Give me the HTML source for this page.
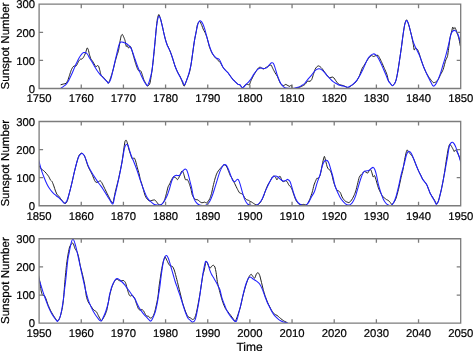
<!DOCTYPE html>
<html><head><meta charset="utf-8"><style>
html,body{margin:0;padding:0;background:#fff;width:473px;height:351px;overflow:hidden}
svg{display:block;will-change:transform}
text{font-family:"Liberation Sans",sans-serif;text-rendering:geometricPrecision}
</style></head><body>
<svg width="473" height="351" viewBox="0 0 473 351">
<rect width="473" height="351" fill="#fff"/>
<clipPath id="c0"><rect x="39.1" y="4.2" width="421.59999999999997" height="84.3"/></clipPath>
<g clip-path="url(#c0)" fill="none" stroke-linejoin="round" stroke-linecap="round"><path d="M61.00,84.70 C61.25,84.63 62.99,84.14 63.50,84.00 C64.01,83.86 65.67,83.66 66.10,83.30 C66.53,82.94 67.46,81.20 67.80,80.40 C68.14,79.60 69.16,76.32 69.50,75.30 C69.84,74.28 70.85,71.05 71.20,70.20 C71.55,69.35 72.65,67.23 73.00,66.80 C73.35,66.37 74.41,65.96 74.70,65.90 C74.99,65.84 75.65,66.37 75.90,66.20 C76.15,66.03 76.90,64.74 77.20,64.20 C77.50,63.66 78.56,61.31 78.90,60.80 C79.24,60.29 80.29,59.27 80.60,59.10 C80.91,58.93 81.74,59.24 82.00,59.10 C82.26,58.96 82.96,58.05 83.20,57.70 C83.44,57.35 84.14,56.15 84.40,55.60 C84.66,55.05 85.53,52.97 85.80,52.20 C86.07,51.43 86.85,48.15 87.10,47.90 C87.35,47.65 88.06,49.01 88.30,49.70 C88.54,50.39 89.24,53.86 89.50,54.80 C89.76,55.74 90.62,58.50 90.90,59.10 C91.18,59.70 92.04,60.43 92.30,60.80 C92.56,61.17 93.26,62.38 93.50,62.80 C93.74,63.22 94.45,64.60 94.70,65.00 C94.95,65.40 95.73,66.74 96.00,66.80 C96.27,66.86 97.14,65.66 97.40,65.60 C97.66,65.54 98.36,65.74 98.60,66.20 C98.84,66.66 99.58,69.38 99.80,70.20 C100.02,71.02 100.58,73.80 100.80,74.40 C101.02,75.00 101.71,75.89 102.00,76.20 C102.29,76.51 103.36,77.16 103.70,77.50 C104.04,77.84 105.06,79.19 105.40,79.60 C105.74,80.01 106.81,81.23 107.10,81.60 C107.39,81.97 108.04,83.42 108.30,83.30 C108.56,83.18 109.36,81.27 109.70,80.40 C110.04,79.53 111.33,75.78 111.70,74.60 C112.07,73.42 113.06,69.88 113.40,68.60 C113.74,67.32 114.76,63.08 115.10,61.80 C115.44,60.52 116.46,56.92 116.80,55.80 C117.14,54.68 118.19,51.97 118.50,50.60 C118.81,49.23 119.64,43.55 119.90,42.10 C120.16,40.65 120.86,36.87 121.10,36.10 C121.34,35.33 122.04,34.31 122.30,34.40 C122.56,34.49 123.43,36.40 123.70,37.00 C123.97,37.60 124.75,39.46 125.00,40.40 C125.25,41.34 125.99,45.89 126.20,46.40 C126.41,46.91 126.93,45.42 127.10,45.50 C127.27,45.58 127.73,46.94 127.90,47.20 C128.07,47.46 128.62,48.23 128.80,48.10 C128.98,47.97 129.49,45.99 129.70,45.90 C129.91,45.81 130.65,46.64 130.90,47.20 C131.15,47.76 131.90,50.47 132.20,51.50 C132.50,52.53 133.56,56.30 133.90,57.50 C134.24,58.70 135.25,62.39 135.60,63.50 C135.95,64.61 137.09,67.87 137.40,68.60 C137.71,69.33 138.45,70.63 138.70,70.80 C138.95,70.97 139.66,70.23 139.90,70.30 C140.14,70.37 140.84,70.99 141.10,71.50 C141.36,72.01 142.23,74.58 142.50,75.40 C142.77,76.22 143.49,78.93 143.80,79.70 C144.11,80.47 145.30,82.52 145.60,83.10 C145.90,83.68 146.56,85.21 146.80,85.50 C147.04,85.79 147.68,86.25 148.00,86.00 C148.32,85.75 149.61,84.48 150.00,83.00 C150.39,81.52 151.57,73.50 151.90,71.20 C152.23,68.90 152.99,62.85 153.30,60.00 C153.61,57.15 154.71,45.79 155.00,42.70 C155.29,39.61 155.96,31.49 156.20,29.10 C156.44,26.71 157.14,20.26 157.40,18.80 C157.66,17.34 158.49,14.50 158.80,14.50 C159.11,14.50 160.16,17.69 160.50,18.80 C160.84,19.91 161.86,24.15 162.20,25.60 C162.54,27.05 163.56,31.84 163.90,33.30 C164.24,34.76 165.25,39.00 165.60,40.20 C165.95,41.40 167.05,44.45 167.40,45.30 C167.75,46.15 168.76,47.93 169.10,48.70 C169.44,49.47 170.46,52.06 170.80,53.00 C171.14,53.94 172.08,56.80 172.50,58.10 C172.92,59.40 174.50,64.61 175.00,66.00 C175.50,67.39 177.00,70.98 177.50,72.00 C178.00,73.02 179.58,75.36 180.00,76.20 C180.42,77.04 181.40,79.62 181.70,80.40 C182.00,81.18 182.74,83.43 183.00,84.00 C183.26,84.57 183.92,86.54 184.30,86.10 C184.68,85.66 186.29,80.94 186.80,79.60 C187.31,78.26 188.97,74.24 189.40,72.70 C189.83,71.16 190.76,66.25 191.10,64.20 C191.44,62.15 192.46,54.59 192.80,52.20 C193.14,49.81 194.16,42.35 194.50,40.30 C194.84,38.25 195.93,33.17 196.20,31.70 C196.47,30.23 196.97,26.55 197.20,25.60 C197.43,24.65 198.24,22.62 198.50,22.20 C198.76,21.78 199.46,21.06 199.80,21.40 C200.14,21.74 201.56,24.83 201.90,25.60 C202.24,26.37 202.89,28.41 203.20,29.10 C203.51,29.79 204.62,31.65 205.00,32.50 C205.38,33.35 206.58,36.23 207.00,37.60 C207.42,38.97 208.82,44.91 209.20,46.20 C209.58,47.49 210.47,49.73 210.80,50.50 C211.13,51.27 212.08,53.21 212.50,53.90 C212.92,54.59 214.49,56.80 215.00,57.40 C215.51,58.00 217.08,59.39 217.60,59.90 C218.12,60.41 219.69,61.81 220.20,62.50 C220.71,63.19 222.19,66.03 222.70,66.80 C223.21,67.57 224.78,69.61 225.30,70.20 C225.82,70.79 227.39,72.10 227.90,72.70 C228.41,73.30 229.89,75.51 230.40,76.20 C230.91,76.89 232.48,79.01 233.00,79.60 C233.52,80.19 235.09,81.62 235.60,82.10 C236.11,82.58 237.66,84.11 238.10,84.40 C238.54,84.69 239.55,84.66 240.00,85.00 C240.45,85.34 242.09,87.80 242.60,87.80 C243.11,87.80 244.59,85.34 245.10,85.00 C245.61,84.66 247.27,84.43 247.70,84.40 C248.13,84.37 249.06,85.10 249.40,84.70 C249.74,84.30 250.67,81.34 251.10,80.40 C251.53,79.46 253.19,76.24 253.70,75.30 C254.21,74.36 255.69,71.77 256.20,71.00 C256.71,70.23 258.37,67.97 258.80,67.60 C259.23,67.23 260.16,67.21 260.50,67.30 C260.84,67.39 261.86,68.33 262.20,68.50 C262.54,68.67 263.56,69.09 263.90,69.00 C264.24,68.91 265.25,67.82 265.60,67.60 C265.95,67.38 267.02,67.00 267.40,66.80 C267.78,66.60 269.03,65.78 269.40,65.60 C269.77,65.42 270.76,64.71 271.10,65.00 C271.44,65.29 272.41,67.73 272.80,68.50 C273.19,69.27 274.55,71.93 275.00,72.70 C275.45,73.47 276.90,75.43 277.30,76.20 C277.70,76.97 278.63,79.58 279.00,80.40 C279.37,81.22 280.54,83.88 281.00,84.40 C281.46,84.92 283.12,85.60 283.60,85.60 C284.08,85.60 285.37,84.40 285.80,84.40 C286.23,84.40 287.49,85.40 287.90,85.60 C288.31,85.80 289.56,86.46 289.90,86.40 C290.24,86.34 291.08,84.83 291.30,85.00 C291.52,85.17 291.76,87.75 292.10,88.10 C292.44,88.45 294.10,88.53 294.70,88.50 C295.30,88.47 297.42,88.01 298.10,87.80 C298.78,87.59 300.81,86.74 301.50,86.40 C302.19,86.06 304.40,84.91 305.00,84.40 C305.60,83.89 307.00,81.61 307.50,81.30 C308.00,80.99 309.58,81.47 310.00,81.30 C310.42,81.13 311.36,80.29 311.70,79.60 C312.04,78.91 313.06,75.43 313.40,74.40 C313.74,73.37 314.76,70.06 315.10,69.30 C315.44,68.54 316.46,67.14 316.80,66.80 C317.14,66.46 318.15,65.90 318.50,65.90 C318.85,65.90 319.95,66.54 320.30,66.80 C320.65,67.06 321.58,67.99 322.00,68.50 C322.42,69.01 323.99,71.22 324.50,71.90 C325.01,72.58 326.58,74.70 327.10,75.30 C327.62,75.90 329.19,77.73 329.70,77.90 C330.21,78.07 331.78,77.00 332.20,77.00 C332.62,77.00 333.56,77.56 333.90,77.90 C334.24,78.24 335.17,79.81 335.60,80.40 C336.03,80.99 337.68,83.34 338.20,83.80 C338.72,84.26 340.29,84.82 340.80,85.00 C341.31,85.18 342.79,85.42 343.30,85.60 C343.81,85.78 345.44,86.55 345.90,86.80 C346.36,87.05 347.47,88.14 347.90,88.10 C348.33,88.06 349.72,86.74 350.20,86.40 C350.68,86.06 352.24,85.04 352.70,84.70 C353.16,84.36 354.37,83.43 354.80,83.00 C355.23,82.57 356.52,81.17 357.00,80.40 C357.48,79.63 359.09,76.49 359.60,75.30 C360.11,74.11 361.62,69.53 362.10,68.50 C362.58,67.47 363.97,65.69 364.40,65.00 C364.83,64.31 365.94,62.33 366.40,61.60 C366.86,60.87 368.49,58.30 369.00,57.70 C369.51,57.10 371.04,55.72 371.50,55.60 C371.96,55.48 373.17,56.50 373.60,56.50 C374.03,56.50 375.36,55.72 375.80,55.60 C376.24,55.48 377.61,55.04 378.00,55.30 C378.39,55.56 379.32,57.48 379.70,58.20 C380.08,58.92 381.33,61.47 381.80,62.50 C382.27,63.53 383.89,67.31 384.40,68.50 C384.91,69.69 386.49,73.16 386.90,74.40 C387.31,75.64 388.16,80.01 388.50,80.90 C388.84,81.79 389.92,82.83 390.30,83.30 C390.68,83.77 391.88,85.55 392.30,85.60 C392.72,85.65 394.11,84.40 394.50,83.80 C394.89,83.20 395.86,80.88 396.20,79.60 C396.54,78.32 397.55,73.05 397.90,71.00 C398.25,68.95 399.35,61.45 399.70,59.10 C400.05,56.75 401.06,49.96 401.40,47.50 C401.74,45.04 402.76,36.86 403.10,34.50 C403.44,32.14 404.46,25.37 404.80,23.90 C405.14,22.43 406.16,19.88 406.50,19.80 C406.84,19.72 407.86,22.17 408.20,23.10 C408.54,24.03 409.56,27.82 409.90,29.10 C410.24,30.38 411.26,34.37 411.60,35.90 C411.94,37.43 413.04,42.99 413.30,44.40 C413.56,45.81 413.97,49.62 414.20,50.00 C414.43,50.38 415.26,48.24 415.60,48.20 C415.94,48.16 417.23,49.04 417.60,49.60 C417.97,50.16 418.96,52.81 419.30,53.80 C419.64,54.79 420.57,58.20 421.00,59.50 C421.43,60.80 423.08,65.48 423.60,66.80 C424.12,68.12 425.69,71.68 426.20,72.70 C426.71,73.72 428.19,76.23 428.70,77.00 C429.21,77.77 430.84,79.84 431.30,80.40 C431.76,80.96 432.87,82.43 433.30,82.60 C433.73,82.77 435.12,82.40 435.60,82.10 C436.08,81.80 437.59,80.37 438.10,79.60 C438.61,78.83 440.19,75.43 440.70,74.40 C441.21,73.37 442.69,70.75 443.20,69.30 C443.71,67.85 445.37,61.19 445.80,59.90 C446.23,58.61 447.16,57.99 447.50,56.40 C447.84,54.81 448.91,46.04 449.20,44.00 C449.49,41.96 450.14,37.30 450.40,36.00 C450.66,34.70 451.57,31.90 451.80,31.00 C452.03,30.10 452.51,27.18 452.70,27.00 C452.89,26.82 453.48,29.15 453.70,29.20 C453.92,29.25 454.69,27.50 454.90,27.50 C455.11,27.50 455.59,28.65 455.80,29.20 C456.01,29.75 456.78,32.37 457.00,33.00 C457.22,33.63 457.78,34.80 458.00,35.50 C458.22,36.20 458.97,38.97 459.20,40.00 C459.43,41.03 460.19,45.22 460.30,45.80" stroke="#202020" stroke-width="1.0"/><path d="M61.00,88.10 C61.42,87.82 62.65,87.02 63.50,86.40 C64.35,85.78 65.23,85.40 66.10,84.40 C66.97,83.40 67.85,81.92 68.70,80.40 C69.55,78.88 70.35,77.15 71.20,75.30 C72.05,73.45 72.93,71.30 73.80,69.30 C74.67,67.30 75.55,65.15 76.40,63.30 C77.25,61.45 78.05,59.70 78.90,58.20 C79.75,56.70 80.70,55.23 81.50,54.30 C82.30,53.37 83.05,52.88 83.70,52.60 C84.35,52.32 84.77,52.32 85.40,52.60 C86.03,52.88 86.87,53.50 87.50,54.30 C88.13,55.10 88.48,56.18 89.20,57.40 C89.92,58.62 90.95,60.18 91.80,61.60 C92.65,63.02 93.45,64.47 94.30,65.90 C95.15,67.33 96.05,68.92 96.90,70.20 C97.75,71.48 98.55,72.55 99.40,73.60 C100.25,74.65 101.13,75.57 102.00,76.50 C102.87,77.43 103.75,78.35 104.60,79.20 C105.45,80.05 106.45,80.97 107.10,81.60 C107.75,82.23 107.92,83.33 108.50,83.00 C109.08,82.67 109.92,81.43 110.60,79.60 C111.28,77.77 111.85,75.12 112.60,72.00 C113.35,68.88 114.25,64.60 115.10,60.90 C115.95,57.20 116.98,52.65 117.70,49.80 C118.42,46.95 118.83,45.08 119.40,43.80 C119.97,42.52 120.38,42.33 121.10,42.10 C121.82,41.87 122.85,42.17 123.70,42.40 C124.55,42.63 125.35,42.98 126.20,43.50 C127.05,44.02 127.93,44.60 128.80,45.50 C129.67,46.40 130.55,47.18 131.40,48.90 C132.25,50.62 133.05,53.37 133.90,55.80 C134.75,58.23 135.63,61.08 136.50,63.50 C137.37,65.92 138.25,68.17 139.10,70.30 C139.95,72.43 140.75,74.45 141.60,76.30 C142.45,78.15 143.43,80.03 144.20,81.40 C144.97,82.77 145.65,83.82 146.20,84.50 C146.75,85.18 146.98,86.02 147.50,85.50 C148.02,84.98 148.57,83.78 149.30,81.40 C150.03,79.02 151.18,75.47 151.90,71.20 C152.62,66.93 153.03,61.22 153.60,55.80 C154.17,50.38 154.82,43.50 155.30,38.70 C155.78,33.90 156.08,30.28 156.50,27.00 C156.92,23.72 157.37,20.80 157.80,19.00 C158.23,17.20 158.65,16.23 159.10,16.20 C159.55,16.17 159.98,17.23 160.50,18.80 C161.02,20.37 161.63,23.18 162.20,25.60 C162.77,28.02 163.33,30.87 163.90,33.30 C164.47,35.73 165.03,38.17 165.60,40.20 C166.17,42.23 166.60,43.77 167.30,45.50 C168.00,47.23 168.95,48.60 169.80,50.60 C170.65,52.60 171.53,54.93 172.40,57.50 C173.27,60.07 174.15,63.58 175.00,66.00 C175.85,68.42 176.65,70.15 177.50,72.00 C178.35,73.85 179.25,75.53 180.10,77.10 C180.95,78.67 181.88,80.08 182.60,81.40 C183.32,82.72 183.68,85.28 184.40,85.00 C185.12,84.72 186.05,82.00 186.90,79.70 C187.75,77.40 188.80,73.78 189.50,71.20 C190.20,68.62 190.55,67.37 191.10,64.20 C191.65,61.03 192.23,56.18 192.80,52.20 C193.37,48.22 193.93,43.72 194.50,40.30 C195.07,36.88 195.70,34.17 196.20,31.70 C196.70,29.23 197.07,27.12 197.50,25.50 C197.93,23.88 198.27,22.77 198.80,22.00 C199.33,21.23 200.02,20.58 200.70,20.90 C201.38,21.22 202.18,22.40 202.90,23.90 C203.62,25.40 204.23,27.33 205.00,29.90 C205.77,32.47 206.65,36.30 207.50,39.30 C208.35,42.30 209.25,45.48 210.10,47.90 C210.95,50.32 211.60,52.15 212.60,53.80 C213.60,55.45 214.95,56.80 216.10,57.80 C217.25,58.80 218.40,58.30 219.50,59.80 C220.60,61.30 221.73,65.07 222.70,66.80 C223.67,68.53 224.43,69.22 225.30,70.20 C226.17,71.18 227.05,71.70 227.90,72.70 C228.75,73.70 229.55,75.05 230.40,76.20 C231.25,77.35 232.13,78.62 233.00,79.60 C233.87,80.58 234.75,81.30 235.60,82.10 C236.45,82.90 237.37,83.97 238.10,84.40 C238.83,84.83 239.40,84.22 240.00,84.70 C240.60,85.18 241.13,86.87 241.70,87.30 C242.27,87.73 242.68,87.78 243.40,87.30 C244.12,86.82 245.15,85.27 246.00,84.40 C246.85,83.53 247.65,83.05 248.50,82.10 C249.35,81.15 250.23,79.98 251.10,78.70 C251.97,77.42 252.85,75.68 253.70,74.40 C254.55,73.12 255.35,71.98 256.20,71.00 C257.05,70.02 257.93,69.02 258.80,68.50 C259.67,67.98 260.55,67.90 261.40,67.90 C262.25,67.90 263.05,68.50 263.90,68.50 C264.75,68.50 265.63,68.48 266.50,67.90 C267.37,67.32 268.25,65.85 269.10,65.00 C269.95,64.15 270.90,63.08 271.60,62.80 C272.30,62.52 272.73,62.50 273.30,63.30 C273.87,64.10 274.42,65.88 275.00,67.60 C275.58,69.32 276.13,71.60 276.80,73.60 C277.47,75.60 278.30,77.90 279.00,79.60 C279.70,81.30 280.23,82.60 281.00,83.80 C281.77,85.00 282.73,86.08 283.60,86.80 C284.47,87.52 284.92,87.82 286.20,88.10 C287.48,88.38 289.88,88.50 291.30,88.50 C292.72,88.50 293.57,88.30 294.70,88.10 C295.83,87.90 296.97,87.72 298.10,87.30 C299.23,86.88 300.35,86.32 301.50,85.60 C302.65,84.88 303.85,84.15 305.00,83.00 C306.15,81.85 307.27,80.07 308.40,78.70 C309.53,77.33 310.68,76.13 311.80,74.80 C312.92,73.47 314.12,71.67 315.10,70.70 C316.08,69.73 316.83,69.28 317.70,69.00 C318.57,68.72 319.45,68.72 320.30,69.00 C321.15,69.28 321.95,69.93 322.80,70.70 C323.65,71.47 324.55,72.63 325.40,73.60 C326.25,74.57 327.05,75.57 327.90,76.50 C328.75,77.43 329.63,78.35 330.50,79.20 C331.37,80.05 332.25,80.92 333.10,81.60 C333.95,82.28 334.75,82.78 335.60,83.30 C336.45,83.82 337.33,84.32 338.20,84.70 C339.07,85.08 339.95,85.37 340.80,85.60 C341.65,85.83 342.45,85.90 343.30,86.10 C344.15,86.30 345.18,86.60 345.90,86.80 C346.62,87.00 346.88,87.42 347.60,87.30 C348.32,87.18 349.35,86.58 350.20,86.10 C351.05,85.62 351.85,85.07 352.70,84.40 C353.55,83.73 354.43,83.05 355.30,82.10 C356.17,81.15 357.05,79.98 357.90,78.70 C358.75,77.42 359.55,75.97 360.40,74.40 C361.25,72.83 362.13,71.15 363.00,69.30 C363.87,67.45 364.75,65.15 365.60,63.30 C366.45,61.45 367.25,59.53 368.10,58.20 C368.95,56.87 369.85,56.02 370.70,55.30 C371.55,54.58 372.35,53.98 373.20,53.90 C374.05,53.82 374.93,54.08 375.80,54.80 C376.67,55.52 377.55,56.78 378.40,58.20 C379.25,59.62 380.05,61.45 380.90,63.30 C381.75,65.15 382.63,67.30 383.50,69.30 C384.37,71.30 385.25,73.30 386.10,75.30 C386.95,77.30 387.90,79.97 388.60,81.30 C389.30,82.63 389.68,82.58 390.30,83.30 C390.92,84.02 391.60,85.52 392.30,85.60 C393.00,85.68 393.85,84.80 394.50,83.80 C395.15,82.80 395.63,81.73 396.20,79.60 C396.77,77.47 397.32,74.42 397.90,71.00 C398.48,67.58 399.12,63.02 399.70,59.10 C400.28,55.18 400.83,51.60 401.40,47.50 C401.97,43.40 402.53,38.33 403.10,34.50 C403.67,30.67 404.23,26.83 404.80,24.50 C405.37,22.17 405.93,20.73 406.50,20.50 C407.07,20.27 407.63,21.67 408.20,23.10 C408.77,24.53 409.33,26.97 409.90,29.10 C410.47,31.23 411.03,33.77 411.60,35.90 C412.17,38.03 412.73,40.18 413.30,41.90 C413.87,43.62 414.42,44.88 415.00,46.20 C415.58,47.52 416.08,48.33 416.80,49.80 C417.52,51.27 418.60,53.38 419.30,55.00 C420.00,56.62 420.28,57.53 421.00,59.50 C421.72,61.47 422.73,64.60 423.60,66.80 C424.47,69.00 425.35,70.85 426.20,72.70 C427.05,74.55 427.85,76.18 428.70,77.90 C429.55,79.62 430.53,81.63 431.30,83.00 C432.07,84.37 432.58,85.87 433.30,86.10 C434.02,86.33 434.80,85.48 435.60,84.40 C436.40,83.32 437.25,81.55 438.10,79.60 C438.95,77.65 439.85,75.27 440.70,72.70 C441.55,70.13 442.35,67.05 443.20,64.20 C444.05,61.35 444.93,58.73 445.80,55.60 C446.67,52.47 447.68,48.38 448.40,45.40 C449.12,42.42 449.58,39.77 450.10,37.70 C450.62,35.63 451.05,34.12 451.50,33.00 C451.95,31.88 452.28,31.43 452.80,31.00 C453.32,30.57 454.07,30.37 454.60,30.40 C455.13,30.43 455.52,30.73 456.00,31.20 C456.48,31.67 456.97,32.10 457.50,33.20 C458.03,34.30 458.73,36.37 459.20,37.80 C459.67,39.23 460.12,41.13 460.30,41.80" stroke="#2020ff" stroke-width="1.05"/></g>
<path d="M39.1,4.2 H460.7 V88.5 H39.1 Z M81.26,88.5 v-4 M81.26,4.2 v4 M123.42,88.5 v-4 M123.42,4.2 v4 M165.58,88.5 v-4 M165.58,4.2 v4 M207.74,88.5 v-4 M207.74,4.2 v4 M249.90,88.5 v-4 M249.90,4.2 v4 M292.06,88.5 v-4 M292.06,4.2 v4 M334.22,88.5 v-4 M334.22,4.2 v4 M376.38,88.5 v-4 M376.38,4.2 v4 M418.54,88.5 v-4 M418.54,4.2 v4 M39.1,60.40 h4 M460.7,60.40 h-4 M39.1,32.30 h4 M460.7,32.30 h-4 " fill="none" stroke="#7c7c7c" stroke-width="1.3"/>
<text x="35.00" y="92.70" text-anchor="end" font-family="Liberation Sans, sans-serif" font-size="11.3" stroke="#000" stroke-width="0.2">0</text>
<text x="35.00" y="64.60" text-anchor="end" font-family="Liberation Sans, sans-serif" font-size="11.3" stroke="#000" stroke-width="0.2">100</text>
<text x="35.00" y="36.50" text-anchor="end" font-family="Liberation Sans, sans-serif" font-size="11.3" stroke="#000" stroke-width="0.2">200</text>
<text x="35.00" y="8.40" text-anchor="end" font-family="Liberation Sans, sans-serif" font-size="11.3" stroke="#000" stroke-width="0.2">300</text>
<text x="39.1" y="102.45" text-anchor="middle" font-family="Liberation Sans, sans-serif" font-size="11.3" stroke="#000" stroke-width="0.2">1750</text>
<text x="81.3" y="102.45" text-anchor="middle" font-family="Liberation Sans, sans-serif" font-size="11.3" stroke="#000" stroke-width="0.2">1760</text>
<text x="123.4" y="102.45" text-anchor="middle" font-family="Liberation Sans, sans-serif" font-size="11.3" stroke="#000" stroke-width="0.2">1770</text>
<text x="165.6" y="102.45" text-anchor="middle" font-family="Liberation Sans, sans-serif" font-size="11.3" stroke="#000" stroke-width="0.2">1780</text>
<text x="207.7" y="102.45" text-anchor="middle" font-family="Liberation Sans, sans-serif" font-size="11.3" stroke="#000" stroke-width="0.2">1790</text>
<text x="249.9" y="102.45" text-anchor="middle" font-family="Liberation Sans, sans-serif" font-size="11.3" stroke="#000" stroke-width="0.2">1800</text>
<text x="292.1" y="102.45" text-anchor="middle" font-family="Liberation Sans, sans-serif" font-size="11.3" stroke="#000" stroke-width="0.2">1810</text>
<text x="334.2" y="102.45" text-anchor="middle" font-family="Liberation Sans, sans-serif" font-size="11.3" stroke="#000" stroke-width="0.2">1820</text>
<text x="376.4" y="102.45" text-anchor="middle" font-family="Liberation Sans, sans-serif" font-size="11.3" stroke="#000" stroke-width="0.2">1830</text>
<text x="418.5" y="102.45" text-anchor="middle" font-family="Liberation Sans, sans-serif" font-size="11.3" stroke="#000" stroke-width="0.2">1840</text>
<text x="460.7" y="102.45" text-anchor="middle" font-family="Liberation Sans, sans-serif" font-size="11.3" stroke="#000" stroke-width="0.2">1850</text>
<text transform="translate(8.7,46.0) rotate(-90)" text-anchor="middle" letter-spacing="0.04" font-family="Liberation Sans, sans-serif" font-size="11.5" stroke="#000" stroke-width="0.2">Sunspot Number</text>
<clipPath id="c1"><rect x="39.1" y="121.5" width="421.59999999999997" height="84.25"/></clipPath>
<g clip-path="url(#c1)" fill="none" stroke-linejoin="round" stroke-linecap="round"><path d="M38.00,164.50 C38.08,164.59 38.50,164.97 38.80,165.40 C39.10,165.83 40.53,168.29 41.00,168.80 C41.47,169.31 42.99,170.07 43.50,170.50 C44.01,170.93 45.58,172.50 46.10,173.10 C46.62,173.70 48.27,175.82 48.70,176.50 C49.13,177.18 50.06,179.39 50.40,179.90 C50.74,180.41 51.76,181.00 52.10,181.60 C52.44,182.20 53.46,184.96 53.80,185.90 C54.14,186.84 55.16,190.11 55.50,191.00 C55.84,191.89 56.86,194.28 57.20,194.80 C57.54,195.32 58.56,195.81 58.90,196.20 C59.24,196.59 60.25,198.23 60.60,198.70 C60.95,199.17 62.05,200.47 62.40,200.90 C62.75,201.33 63.76,202.76 64.10,203.00 C64.44,203.24 65.46,203.56 65.80,203.30 C66.14,203.04 67.16,201.37 67.50,200.40 C67.84,199.43 68.77,195.31 69.20,193.60 C69.63,191.89 71.29,185.44 71.80,183.30 C72.31,181.16 73.79,174.33 74.30,172.20 C74.81,170.07 76.48,163.57 76.90,162.00 C77.32,160.43 78.21,157.27 78.50,156.50 C78.79,155.73 79.45,154.64 79.80,154.30 C80.15,153.96 81.52,152.93 82.00,153.10 C82.48,153.27 84.09,154.94 84.60,156.00 C85.11,157.06 86.68,162.50 87.10,163.70 C87.52,164.90 88.45,167.23 88.80,168.00 C89.15,168.77 90.25,170.72 90.60,171.40 C90.95,172.08 91.96,174.03 92.30,174.80 C92.64,175.57 93.71,178.42 94.00,179.10 C94.29,179.78 94.91,181.26 95.20,181.60 C95.49,181.94 96.56,182.50 96.90,182.50 C97.24,182.50 98.26,181.77 98.60,181.60 C98.94,181.43 99.99,180.71 100.30,180.80 C100.61,180.89 101.39,181.99 101.70,182.50 C102.01,183.01 102.98,185.05 103.40,185.90 C103.82,186.75 105.39,189.97 105.90,191.00 C106.41,192.03 108.07,195.34 108.50,196.20 C108.93,197.06 109.89,199.01 110.20,199.60 C110.51,200.19 111.34,201.76 111.60,202.10 C111.86,202.44 112.60,203.16 112.80,203.00 C113.00,202.84 113.37,201.53 113.60,200.50 C113.83,199.47 114.78,194.16 115.10,192.70 C115.42,191.24 116.46,187.26 116.80,185.90 C117.14,184.54 118.15,180.64 118.50,179.10 C118.85,177.56 119.95,172.21 120.30,170.50 C120.65,168.79 121.66,164.05 122.00,162.00 C122.34,159.95 123.40,152.06 123.70,150.00 C124.00,147.94 124.75,142.38 125.00,141.40 C125.25,140.42 125.96,140.03 126.20,140.20 C126.44,140.37 127.14,142.21 127.40,143.10 C127.66,143.99 128.49,147.99 128.80,149.10 C129.11,150.21 130.19,153.26 130.50,154.20 C130.81,155.14 131.64,158.07 131.90,158.50 C132.16,158.93 132.86,158.55 133.10,158.50 C133.34,158.45 134.05,157.75 134.30,158.00 C134.55,158.25 135.29,160.01 135.60,161.00 C135.91,161.99 137.05,166.62 137.40,167.90 C137.75,169.18 138.81,172.64 139.10,173.80 C139.39,174.96 140.05,178.55 140.30,179.50 C140.55,180.45 141.30,182.32 141.60,183.30 C141.90,184.28 142.96,188.10 143.30,189.30 C143.64,190.50 144.65,194.36 145.00,195.30 C145.35,196.24 146.37,198.14 146.80,198.70 C147.23,199.26 148.79,200.73 149.30,200.90 C149.81,201.07 151.39,200.50 151.90,200.40 C152.41,200.30 153.97,199.81 154.40,199.90 C154.83,199.99 155.85,200.91 156.20,201.30 C156.55,201.69 157.56,203.43 157.90,203.80 C158.24,204.17 159.26,204.91 159.60,205.00 C159.94,205.09 160.96,204.90 161.30,204.70 C161.64,204.50 162.66,203.51 163.00,203.00 C163.34,202.49 164.36,200.54 164.70,199.60 C165.04,198.66 166.06,194.88 166.40,193.60 C166.74,192.32 167.77,187.77 168.10,186.80 C168.43,185.83 169.41,184.49 169.70,183.90 C169.99,183.31 170.74,181.45 171.00,180.90 C171.26,180.35 172.05,178.82 172.30,178.40 C172.55,177.98 173.25,176.79 173.50,176.70 C173.75,176.61 174.54,177.38 174.80,177.50 C175.06,177.62 175.84,177.68 176.10,177.90 C176.36,178.12 177.14,179.70 177.40,179.70 C177.66,179.70 178.44,178.33 178.70,177.90 C178.96,177.47 179.75,175.99 180.00,175.40 C180.25,174.81 180.99,172.45 181.20,172.00 C181.41,171.55 181.91,170.90 182.10,170.90 C182.29,170.90 182.91,171.59 183.10,172.00 C183.29,172.41 183.80,174.32 184.00,175.00 C184.20,175.68 184.91,178.29 185.10,178.80 C185.29,179.31 185.70,180.06 185.90,180.10 C186.10,180.14 186.90,179.16 187.10,179.20 C187.30,179.24 187.72,180.16 187.90,180.50 C188.08,180.84 188.67,182.00 188.90,182.60 C189.13,183.20 189.98,185.81 190.20,186.50 C190.42,187.19 190.90,188.67 191.10,189.50 C191.30,190.33 191.87,193.88 192.20,194.80 C192.53,195.72 194.01,198.22 194.40,198.70 C194.79,199.18 195.76,199.48 196.10,199.60 C196.44,199.72 197.46,199.73 197.80,199.90 C198.14,200.07 199.16,201.03 199.50,201.30 C199.84,201.57 200.85,202.47 201.20,202.60 C201.55,202.73 202.65,202.65 203.00,202.60 C203.35,202.55 204.36,202.06 204.70,202.10 C205.04,202.14 206.06,203.08 206.40,203.00 C206.74,202.92 207.76,201.73 208.10,201.30 C208.44,200.87 209.46,199.47 209.80,198.70 C210.14,197.93 211.16,194.88 211.50,193.60 C211.84,192.32 212.86,187.35 213.20,185.90 C213.54,184.45 214.56,180.30 214.90,179.10 C215.24,177.90 216.26,174.72 216.60,173.90 C216.94,173.08 217.96,171.41 218.30,170.90 C218.64,170.39 219.65,169.21 220.00,168.80 C220.35,168.39 221.45,167.18 221.80,166.80 C222.15,166.42 223.16,165.18 223.50,165.00 C223.84,164.82 224.86,164.79 225.20,165.00 C225.54,165.21 226.56,166.46 226.90,167.10 C227.24,167.74 228.26,170.55 228.60,171.40 C228.94,172.25 229.96,174.92 230.30,175.60 C230.64,176.28 231.66,177.60 232.00,178.20 C232.34,178.80 233.36,180.92 233.70,181.60 C234.04,182.28 235.06,184.31 235.40,185.00 C235.74,185.69 236.70,187.73 237.10,188.50 C237.50,189.27 238.97,192.19 239.40,192.70 C239.83,193.21 241.03,193.39 241.40,193.60 C241.77,193.81 242.76,194.37 243.10,194.80 C243.44,195.23 244.46,197.42 244.80,197.90 C245.14,198.38 246.12,199.35 246.50,199.60 C246.88,199.85 248.25,200.23 248.60,200.40 C248.95,200.57 249.69,201.13 250.00,201.30 C250.31,201.47 251.36,201.90 251.70,202.10 C252.04,202.30 253.06,203.07 253.40,203.30 C253.74,203.53 254.76,204.23 255.10,204.40 C255.44,204.57 256.46,205.00 256.80,205.00 C257.14,205.00 258.07,204.77 258.50,204.40 C258.93,204.03 260.59,202.12 261.10,201.30 C261.61,200.48 263.18,197.23 263.60,196.20 C264.02,195.17 264.88,192.12 265.30,191.00 C265.72,189.88 267.29,186.02 267.80,185.00 C268.31,183.98 269.97,181.56 270.40,180.80 C270.83,180.04 271.76,177.88 272.10,177.40 C272.44,176.92 273.46,176.04 273.80,176.00 C274.14,175.96 275.19,176.61 275.50,177.00 C275.81,177.39 276.59,179.90 276.90,179.90 C277.21,179.90 278.26,177.34 278.60,177.00 C278.94,176.66 279.96,176.12 280.30,176.50 C280.64,176.88 281.66,180.29 282.00,180.80 C282.34,181.31 283.36,181.60 283.70,181.60 C284.04,181.60 285.06,180.80 285.40,180.80 C285.74,180.80 286.76,181.18 287.10,181.60 C287.44,182.02 288.45,184.48 288.80,185.00 C289.15,185.52 290.25,186.28 290.60,186.80 C290.95,187.32 291.96,189.35 292.30,190.20 C292.64,191.05 293.63,194.28 294.00,195.30 C294.37,196.32 295.54,199.55 296.00,200.40 C296.46,201.25 298.08,203.37 298.60,203.80 C299.12,204.23 300.69,204.64 301.20,204.70 C301.71,204.76 303.23,204.37 303.70,204.40 C304.17,204.43 305.47,205.14 305.90,205.00 C306.33,204.86 307.59,203.63 308.00,203.00 C308.41,202.37 309.57,199.81 310.00,198.70 C310.43,197.59 311.90,193.27 312.30,191.90 C312.70,190.53 313.67,186.09 314.00,185.00 C314.33,183.91 315.31,181.68 315.60,181.00 C315.89,180.32 316.64,178.45 316.90,178.20 C317.16,177.95 317.88,178.79 318.20,178.50 C318.52,178.21 319.78,176.20 320.10,175.30 C320.42,174.40 321.14,170.79 321.40,169.50 C321.66,168.21 322.40,163.71 322.70,162.40 C323.00,161.09 324.08,156.46 324.40,156.40 C324.72,156.34 325.62,160.75 325.90,161.80 C326.18,162.85 326.94,166.16 327.20,166.90 C327.46,167.64 328.22,168.88 328.50,169.20 C328.78,169.52 329.68,169.62 330.00,170.10 C330.32,170.58 331.35,172.85 331.70,174.00 C332.05,175.15 333.14,180.32 333.50,181.60 C333.86,182.88 334.95,185.94 335.30,186.80 C335.65,187.66 336.66,189.78 337.00,190.20 C337.34,190.62 338.36,190.75 338.70,191.00 C339.04,191.25 340.06,192.10 340.40,192.70 C340.74,193.30 341.76,196.31 342.10,197.00 C342.44,197.69 343.46,199.17 343.80,199.60 C344.14,200.03 345.16,201.05 345.50,201.30 C345.84,201.55 346.86,201.97 347.20,202.10 C347.54,202.23 348.56,202.68 348.90,202.60 C349.24,202.52 350.25,201.69 350.60,201.30 C350.95,200.91 352.05,199.30 352.40,198.70 C352.75,198.10 353.76,196.07 354.10,195.30 C354.44,194.53 355.46,192.11 355.80,191.00 C356.14,189.89 357.16,185.56 357.50,184.20 C357.84,182.84 358.86,178.34 359.20,177.40 C359.54,176.46 360.56,175.23 360.90,174.80 C361.24,174.37 362.26,173.44 362.60,173.10 C362.94,172.76 363.96,171.49 364.30,171.40 C364.64,171.31 365.66,172.03 366.00,172.20 C366.34,172.37 367.36,173.30 367.70,173.10 C368.04,172.90 369.09,170.54 369.40,170.20 C369.71,169.86 370.54,169.41 370.80,169.70 C371.06,169.99 371.76,172.37 372.00,173.10 C372.24,173.83 372.94,176.75 373.20,177.00 C373.46,177.25 374.29,175.22 374.60,175.60 C374.91,175.98 375.96,179.68 376.30,180.80 C376.64,181.92 377.66,185.78 378.00,186.80 C378.34,187.82 379.36,190.24 379.70,191.00 C380.04,191.76 381.06,193.80 381.40,194.40 C381.74,195.00 382.76,196.62 383.10,197.00 C383.44,197.38 384.46,197.94 384.80,198.20 C385.14,198.46 386.16,199.38 386.50,199.60 C386.84,199.82 387.85,200.15 388.20,200.40 C388.55,200.65 389.65,201.70 390.00,202.10 C390.35,202.50 391.36,204.31 391.70,204.40 C392.04,204.49 392.98,203.57 393.40,203.00 C393.82,202.43 395.39,200.07 395.90,198.70 C396.41,197.33 397.98,191.43 398.50,189.30 C399.02,187.17 400.65,179.37 401.10,177.40 C401.55,175.43 402.64,171.41 403.00,169.60 C403.36,167.79 404.36,161.10 404.70,159.30 C405.04,157.50 406.15,152.54 406.40,151.60 C406.65,150.66 406.95,149.81 407.20,149.90 C407.45,149.99 408.56,152.09 408.90,152.50 C409.24,152.91 410.25,153.60 410.60,154.00 C410.95,154.40 412.05,155.90 412.40,156.50 C412.75,157.10 413.76,159.20 414.10,160.00 C414.44,160.80 415.46,163.65 415.80,164.50 C416.14,165.35 417.16,167.73 417.50,168.50 C417.84,169.27 418.86,171.49 419.20,172.20 C419.54,172.91 420.56,174.91 420.90,175.60 C421.24,176.29 422.17,178.41 422.60,179.10 C423.03,179.79 424.77,181.91 425.20,182.50 C425.63,183.09 426.56,184.32 426.90,185.00 C427.24,185.68 428.26,188.44 428.60,189.30 C428.94,190.16 429.91,192.83 430.30,193.60 C430.69,194.37 432.07,196.32 432.50,197.00 C432.93,197.68 434.19,199.72 434.60,200.40 C435.01,201.08 436.23,203.71 436.60,203.80 C436.97,203.89 437.99,202.06 438.30,201.30 C438.61,200.54 439.39,197.40 439.70,196.20 C440.01,195.00 441.06,190.84 441.40,189.30 C441.74,187.76 442.76,182.68 443.10,180.80 C443.44,178.92 444.46,172.68 444.80,170.50 C445.14,168.32 446.16,161.15 446.50,159.00 C446.84,156.85 447.89,150.47 448.20,149.00 C448.51,147.53 449.29,144.60 449.60,144.30 C449.91,144.00 450.96,145.52 451.30,146.00 C451.64,146.48 452.71,148.54 453.00,149.10 C453.29,149.66 453.96,151.52 454.20,151.60 C454.44,151.68 455.14,149.90 455.40,149.90 C455.66,149.90 456.52,151.17 456.80,151.60 C457.08,152.03 457.89,153.51 458.20,154.20 C458.51,154.89 459.61,157.73 459.90,158.50 C460.19,159.27 460.89,161.35 461.10,161.90 C461.31,162.45 461.91,163.79 462.00,164.00" stroke="#202020" stroke-width="1.0"/><path d="M38.00,158.50 C38.13,158.80 38.45,159.15 38.80,160.30 C39.15,161.45 39.60,163.55 40.10,165.40 C40.60,167.25 41.08,169.27 41.80,171.40 C42.52,173.53 43.53,176.07 44.40,178.20 C45.27,180.33 46.15,182.48 47.00,184.20 C47.85,185.92 48.65,187.22 49.50,188.50 C50.35,189.78 51.23,190.92 52.10,191.90 C52.97,192.88 53.85,193.63 54.70,194.40 C55.55,195.17 56.35,195.78 57.20,196.50 C58.05,197.22 58.93,197.90 59.80,198.70 C60.67,199.50 61.63,200.53 62.40,201.30 C63.17,202.07 63.70,203.30 64.40,203.30 C65.10,203.30 65.80,202.92 66.60,201.30 C67.40,199.68 68.33,196.60 69.20,193.60 C70.07,190.60 70.95,186.87 71.80,183.30 C72.65,179.73 73.45,175.75 74.30,172.20 C75.15,168.65 76.10,164.70 76.90,162.00 C77.70,159.30 78.33,157.43 79.10,156.00 C79.87,154.57 80.73,153.60 81.50,153.40 C82.27,153.20 82.97,153.80 83.70,154.80 C84.43,155.80 85.18,157.63 85.90,159.40 C86.62,161.17 87.22,163.55 88.00,165.40 C88.78,167.25 89.75,168.93 90.60,170.50 C91.45,172.07 92.25,173.43 93.10,174.80 C93.95,176.17 94.85,177.42 95.70,178.70 C96.55,179.98 97.35,181.30 98.20,182.50 C99.05,183.70 99.93,184.70 100.80,185.90 C101.67,187.10 102.55,188.42 103.40,189.70 C104.25,190.98 105.05,192.23 105.90,193.60 C106.75,194.97 107.63,196.48 108.50,197.90 C109.37,199.32 110.47,201.08 111.10,202.10 C111.73,203.12 111.90,203.93 112.30,204.00 C112.70,204.07 113.17,203.52 113.50,202.50 C113.83,201.48 113.88,199.82 114.30,197.90 C114.72,195.98 115.43,193.43 116.00,191.00 C116.57,188.57 117.13,185.87 117.70,183.30 C118.27,180.73 118.83,178.30 119.40,175.60 C119.97,172.90 120.53,170.08 121.10,167.10 C121.67,164.12 122.23,160.85 122.80,157.70 C123.37,154.55 123.93,150.43 124.50,148.20 C125.07,145.97 125.62,144.73 126.20,144.30 C126.78,143.87 127.42,144.52 128.00,145.60 C128.58,146.68 129.13,149.07 129.70,150.80 C130.27,152.53 130.70,154.13 131.40,156.00 C132.10,157.87 133.05,159.87 133.90,162.00 C134.75,164.13 135.63,166.38 136.50,168.80 C137.37,171.22 138.25,173.93 139.10,176.50 C139.95,179.07 140.75,181.78 141.60,184.20 C142.45,186.62 143.33,188.87 144.20,191.00 C145.07,193.13 145.95,195.43 146.80,197.00 C147.65,198.57 148.45,199.47 149.30,200.40 C150.15,201.33 151.05,201.93 151.90,202.60 C152.75,203.27 153.55,204.00 154.40,204.40 C155.25,204.80 156.13,204.90 157.00,205.00 C157.87,205.10 158.75,205.20 159.60,205.00 C160.45,204.80 161.25,204.57 162.10,203.80 C162.95,203.03 163.83,201.82 164.70,200.40 C165.57,198.98 166.53,197.12 167.30,195.30 C168.07,193.48 168.75,191.25 169.30,189.50 C169.85,187.75 170.18,186.23 170.60,184.80 C171.02,183.37 171.38,182.05 171.80,180.90 C172.22,179.75 172.67,178.68 173.10,177.90 C173.53,177.12 173.97,176.62 174.40,176.20 C174.83,175.78 175.27,175.53 175.70,175.40 C176.13,175.27 176.58,175.37 177.00,175.40 C177.42,175.43 177.78,175.60 178.20,175.60 C178.62,175.60 179.07,175.72 179.50,175.40 C179.93,175.08 180.37,174.27 180.80,173.70 C181.23,173.13 181.67,172.57 182.10,172.00 C182.53,171.43 182.97,170.77 183.40,170.30 C183.83,169.83 184.32,169.38 184.70,169.20 C185.08,169.02 185.35,169.02 185.70,169.20 C186.05,169.38 186.48,169.77 186.80,170.30 C187.12,170.83 187.32,171.55 187.60,172.40 C187.88,173.25 188.20,174.33 188.50,175.40 C188.80,176.47 189.12,177.67 189.40,178.80 C189.68,179.93 189.92,181.07 190.20,182.20 C190.48,183.33 190.82,184.45 191.10,185.60 C191.38,186.75 191.62,187.70 191.90,189.10 C192.18,190.50 192.38,192.25 192.80,194.00 C193.22,195.75 193.70,198.05 194.40,199.60 C195.10,201.15 196.15,202.40 197.00,203.30 C197.85,204.20 198.65,204.62 199.50,205.00 C200.35,205.38 201.23,205.50 202.10,205.60 C202.97,205.70 203.85,205.80 204.70,205.60 C205.55,205.40 206.35,205.12 207.20,204.40 C208.05,203.68 208.93,202.82 209.80,201.30 C210.67,199.78 211.55,197.58 212.40,195.30 C213.25,193.02 214.05,190.30 214.90,187.60 C215.75,184.90 216.65,181.80 217.50,179.10 C218.35,176.40 219.15,173.55 220.00,171.40 C220.85,169.25 221.82,167.35 222.60,166.20 C223.38,165.05 224.07,164.63 224.70,164.50 C225.33,164.37 225.75,164.53 226.40,165.40 C227.05,166.27 227.87,168.00 228.60,169.70 C229.33,171.40 230.08,173.75 230.80,175.60 C231.52,177.45 232.22,179.80 232.90,180.80 C233.58,181.80 234.20,181.83 234.90,181.60 C235.60,181.37 236.45,179.60 237.10,179.40 C237.75,179.20 238.22,179.32 238.80,180.40 C239.38,181.48 239.93,183.70 240.60,185.90 C241.27,188.10 242.10,191.32 242.80,193.60 C243.50,195.88 244.03,197.90 244.80,199.60 C245.57,201.30 246.53,202.90 247.40,203.80 C248.27,204.70 249.00,204.70 250.00,205.00 C251.00,205.30 252.27,205.60 253.40,205.60 C254.53,205.60 255.80,205.43 256.80,205.00 C257.80,204.57 258.55,203.90 259.40,203.00 C260.25,202.10 261.20,200.85 261.90,199.60 C262.60,198.35 263.03,196.87 263.60,195.50 C264.17,194.13 264.60,193.00 265.30,191.40 C266.00,189.80 266.95,187.73 267.80,185.90 C268.65,184.07 269.55,181.88 270.40,180.40 C271.25,178.92 272.05,177.73 272.90,177.00 C273.75,176.27 274.63,176.00 275.50,176.00 C276.37,176.00 277.25,176.43 278.10,177.00 C278.95,177.57 279.75,178.72 280.60,179.40 C281.45,180.08 282.33,180.93 283.20,181.10 C284.07,181.27 285.03,180.68 285.80,180.40 C286.57,180.12 287.10,179.20 287.80,179.40 C288.50,179.60 289.33,180.37 290.00,181.60 C290.67,182.83 291.22,184.95 291.80,186.80 C292.38,188.65 292.85,190.72 293.50,192.70 C294.15,194.68 294.93,197.05 295.70,198.70 C296.47,200.35 297.25,201.60 298.10,202.60 C298.95,203.60 299.87,204.20 300.80,204.70 C301.73,205.20 302.78,205.55 303.70,205.60 C304.62,205.65 305.45,205.58 306.30,205.00 C307.15,204.42 307.95,203.43 308.80,202.10 C309.65,200.77 310.45,198.77 311.40,197.00 C312.35,195.23 313.58,193.73 314.50,191.50 C315.42,189.27 316.23,185.68 316.90,183.60 C317.57,181.52 317.97,180.50 318.50,179.00 C319.03,177.50 319.52,176.62 320.10,174.60 C320.68,172.58 321.42,168.93 322.00,166.90 C322.58,164.87 323.05,163.47 323.60,162.40 C324.15,161.33 324.70,160.82 325.30,160.50 C325.90,160.18 326.57,159.97 327.20,160.50 C327.83,161.03 328.47,162.10 329.10,163.70 C329.73,165.30 330.35,167.85 331.00,170.10 C331.65,172.35 332.40,174.85 333.00,177.20 C333.60,179.55 334.13,182.40 334.60,184.20 C335.07,186.00 335.27,186.58 335.80,188.00 C336.33,189.42 337.03,191.05 337.80,192.70 C338.57,194.35 339.53,196.47 340.40,197.90 C341.27,199.33 342.15,200.32 343.00,201.30 C343.85,202.28 344.65,203.18 345.50,203.80 C346.35,204.42 347.25,204.90 348.10,205.00 C348.95,205.10 349.75,205.02 350.60,204.40 C351.45,203.78 352.33,202.82 353.20,201.30 C354.07,199.78 354.95,197.72 355.80,195.30 C356.65,192.88 357.45,189.65 358.30,186.80 C359.15,183.95 360.03,180.63 360.90,178.20 C361.77,175.77 362.65,173.42 363.50,172.20 C364.35,170.98 365.15,171.18 366.00,170.90 C366.85,170.62 367.73,170.90 368.60,170.50 C369.47,170.10 370.43,169.02 371.20,168.50 C371.97,167.98 372.58,167.20 373.20,167.40 C373.82,167.60 374.33,168.33 374.90,169.70 C375.47,171.07 376.03,173.18 376.60,175.60 C377.17,178.02 377.63,181.48 378.30,184.20 C378.97,186.92 379.80,189.48 380.60,191.90 C381.40,194.32 382.25,196.85 383.10,198.70 C383.95,200.55 384.85,201.95 385.70,203.00 C386.55,204.05 387.35,204.57 388.20,205.00 C389.05,205.43 389.93,205.93 390.80,205.60 C391.67,205.27 392.55,204.43 393.40,203.00 C394.25,201.57 395.05,199.70 395.90,197.00 C396.75,194.30 397.63,190.50 398.50,186.80 C399.37,183.10 400.35,177.93 401.10,174.80 C401.85,171.67 402.40,170.13 403.00,168.00 C403.60,165.87 404.13,164.17 404.70,162.00 C405.27,159.83 405.83,156.73 406.40,155.00 C406.97,153.27 407.53,152.17 408.10,151.60 C408.67,151.03 409.23,151.23 409.80,151.60 C410.37,151.97 410.93,152.80 411.50,153.80 C412.07,154.80 412.63,156.25 413.20,157.60 C413.77,158.95 414.33,160.47 414.90,161.90 C415.47,163.33 416.03,164.78 416.60,166.20 C417.17,167.62 417.58,168.83 418.30,170.40 C419.02,171.97 420.18,174.15 420.90,175.60 C421.62,177.05 421.88,177.95 422.60,179.10 C423.32,180.25 424.48,181.52 425.20,182.50 C425.92,183.48 426.33,183.87 426.90,185.00 C427.47,186.13 428.03,187.87 428.60,189.30 C429.17,190.73 429.65,192.23 430.30,193.60 C430.95,194.97 431.78,196.27 432.50,197.50 C433.22,198.73 433.97,199.85 434.60,201.00 C435.23,202.15 435.68,204.32 436.30,204.40 C436.92,204.48 437.73,202.82 438.30,201.50 C438.87,200.18 439.18,198.53 439.70,196.50 C440.22,194.47 440.83,191.92 441.40,189.30 C441.97,186.68 442.53,183.68 443.10,180.80 C443.67,177.92 444.37,174.30 444.80,172.00 C445.23,169.70 445.27,169.40 445.70,167.00 C446.13,164.60 446.83,160.87 447.40,157.60 C447.97,154.33 448.53,149.82 449.10,147.40 C449.67,144.98 450.23,143.97 450.80,143.10 C451.37,142.23 451.93,142.07 452.50,142.20 C453.07,142.33 453.63,143.03 454.20,143.90 C454.77,144.77 455.33,145.97 455.90,147.40 C456.47,148.83 457.02,150.80 457.60,152.50 C458.18,154.20 458.82,155.75 459.40,157.60 C459.98,159.45 460.67,162.20 461.10,163.60 C461.53,165.00 461.85,165.60 462.00,166.00" stroke="#2020ff" stroke-width="1.05"/></g>
<path d="M39.1,121.5 H460.7 V205.75 H39.1 Z M81.26,205.75 v-4 M81.26,121.5 v4 M123.42,205.75 v-4 M123.42,121.5 v4 M165.58,205.75 v-4 M165.58,121.5 v4 M207.74,205.75 v-4 M207.74,121.5 v4 M249.90,205.75 v-4 M249.90,121.5 v4 M292.06,205.75 v-4 M292.06,121.5 v4 M334.22,205.75 v-4 M334.22,121.5 v4 M376.38,205.75 v-4 M376.38,121.5 v4 M418.54,205.75 v-4 M418.54,121.5 v4 M39.1,177.67 h4 M460.7,177.67 h-4 M39.1,149.58 h4 M460.7,149.58 h-4 " fill="none" stroke="#7c7c7c" stroke-width="1.3"/>
<text x="35.00" y="209.95" text-anchor="end" font-family="Liberation Sans, sans-serif" font-size="11.3" stroke="#000" stroke-width="0.2">0</text>
<text x="35.00" y="181.87" text-anchor="end" font-family="Liberation Sans, sans-serif" font-size="11.3" stroke="#000" stroke-width="0.2">100</text>
<text x="35.00" y="153.78" text-anchor="end" font-family="Liberation Sans, sans-serif" font-size="11.3" stroke="#000" stroke-width="0.2">200</text>
<text x="35.00" y="125.70" text-anchor="end" font-family="Liberation Sans, sans-serif" font-size="11.3" stroke="#000" stroke-width="0.2">300</text>
<text x="39.1" y="219.70" text-anchor="middle" font-family="Liberation Sans, sans-serif" font-size="11.3" stroke="#000" stroke-width="0.2">1850</text>
<text x="81.3" y="219.70" text-anchor="middle" font-family="Liberation Sans, sans-serif" font-size="11.3" stroke="#000" stroke-width="0.2">1860</text>
<text x="123.4" y="219.70" text-anchor="middle" font-family="Liberation Sans, sans-serif" font-size="11.3" stroke="#000" stroke-width="0.2">1870</text>
<text x="165.6" y="219.70" text-anchor="middle" font-family="Liberation Sans, sans-serif" font-size="11.3" stroke="#000" stroke-width="0.2">1880</text>
<text x="207.7" y="219.70" text-anchor="middle" font-family="Liberation Sans, sans-serif" font-size="11.3" stroke="#000" stroke-width="0.2">1890</text>
<text x="249.9" y="219.70" text-anchor="middle" font-family="Liberation Sans, sans-serif" font-size="11.3" stroke="#000" stroke-width="0.2">1900</text>
<text x="292.1" y="219.70" text-anchor="middle" font-family="Liberation Sans, sans-serif" font-size="11.3" stroke="#000" stroke-width="0.2">1910</text>
<text x="334.2" y="219.70" text-anchor="middle" font-family="Liberation Sans, sans-serif" font-size="11.3" stroke="#000" stroke-width="0.2">1920</text>
<text x="376.4" y="219.70" text-anchor="middle" font-family="Liberation Sans, sans-serif" font-size="11.3" stroke="#000" stroke-width="0.2">1930</text>
<text x="418.5" y="219.70" text-anchor="middle" font-family="Liberation Sans, sans-serif" font-size="11.3" stroke="#000" stroke-width="0.2">1940</text>
<text x="460.7" y="219.70" text-anchor="middle" font-family="Liberation Sans, sans-serif" font-size="11.3" stroke="#000" stroke-width="0.2">1950</text>
<text transform="translate(8.7,163.2) rotate(-90)" text-anchor="middle" letter-spacing="0.04" font-family="Liberation Sans, sans-serif" font-size="11.5" stroke="#000" stroke-width="0.2">Sunspot Number</text>
<clipPath id="c2"><rect x="39.1" y="238.75" width="421.59999999999997" height="84.44999999999999"/></clipPath>
<g clip-path="url(#c2)" fill="none" stroke-linejoin="round" stroke-linecap="round"><path d="M38.00,273.00 C38.08,273.35 38.59,275.50 38.80,276.50 C39.01,277.50 39.88,281.65 40.10,283.00 C40.32,284.35 40.83,288.95 41.00,290.00 C41.17,291.05 41.63,292.97 41.80,293.50 C41.97,294.03 42.44,295.09 42.70,295.30 C42.96,295.51 44.06,295.22 44.40,295.60 C44.74,295.98 45.76,298.24 46.10,299.10 C46.44,299.96 47.37,303.09 47.80,304.20 C48.23,305.31 49.88,309.14 50.40,310.20 C50.92,311.26 52.49,313.95 53.00,314.80 C53.51,315.65 55.08,318.09 55.50,318.70 C55.92,319.31 56.86,320.81 57.20,320.90 C57.54,320.99 58.56,320.16 58.90,319.60 C59.24,319.04 60.25,316.50 60.60,315.30 C60.95,314.10 62.10,309.33 62.40,307.60 C62.70,305.87 63.35,300.64 63.60,298.00 C63.85,295.36 64.60,284.59 64.90,281.20 C65.20,277.81 66.26,266.92 66.60,264.10 C66.94,261.28 68.00,254.71 68.30,253.00 C68.60,251.29 69.33,247.85 69.60,247.00 C69.87,246.15 70.74,244.88 71.00,244.50 C71.26,244.12 71.98,243.30 72.20,243.20 C72.42,243.10 72.99,243.17 73.20,243.50 C73.41,243.83 74.11,245.97 74.30,246.50 C74.49,247.03 74.81,248.23 75.10,248.80 C75.39,249.37 76.82,251.26 77.20,252.20 C77.58,253.14 78.60,256.87 78.90,258.20 C79.20,259.53 79.89,264.07 80.20,265.50 C80.51,266.93 81.56,270.65 82.00,272.50 C82.44,274.35 84.17,281.65 84.60,284.00 C85.03,286.35 85.96,294.24 86.30,296.00 C86.64,297.76 87.66,300.78 88.00,301.60 C88.34,302.42 89.36,303.68 89.70,304.20 C90.04,304.72 91.06,306.29 91.40,306.80 C91.74,307.31 92.76,308.91 93.10,309.30 C93.44,309.69 94.46,310.44 94.80,310.70 C95.14,310.96 96.16,311.44 96.50,311.90 C96.84,312.36 97.85,314.62 98.20,315.30 C98.55,315.98 99.69,318.14 100.00,318.70 C100.31,319.26 101.00,320.90 101.30,320.90 C101.60,320.90 102.62,319.31 103.00,318.70 C103.38,318.09 104.72,315.65 105.10,314.80 C105.48,313.95 106.47,311.48 106.80,310.20 C107.13,308.92 108.07,303.67 108.40,302.00 C108.73,300.33 109.76,294.95 110.10,293.50 C110.44,292.05 111.46,288.53 111.80,287.50 C112.14,286.47 113.15,283.92 113.50,283.20 C113.85,282.48 114.95,280.73 115.30,280.30 C115.65,279.87 116.66,278.90 117.00,278.90 C117.34,278.90 118.36,280.09 118.70,280.30 C119.04,280.51 120.06,280.97 120.40,281.00 C120.74,281.03 121.76,280.64 122.10,280.60 C122.44,280.56 123.46,280.39 123.80,280.60 C124.14,280.81 125.19,282.01 125.50,282.70 C125.81,283.39 126.64,286.59 126.90,287.50 C127.16,288.41 127.86,291.03 128.10,291.80 C128.34,292.57 129.05,294.78 129.30,295.20 C129.55,295.62 130.29,296.00 130.60,296.00 C130.91,296.00 132.09,295.11 132.40,295.20 C132.71,295.29 133.44,296.49 133.70,296.90 C133.96,297.31 134.70,298.55 135.00,299.30 C135.30,300.05 136.36,303.46 136.70,304.40 C137.04,305.34 138.06,308.10 138.40,308.70 C138.74,309.30 139.76,310.32 140.10,310.40 C140.44,310.48 141.46,309.46 141.80,309.50 C142.14,309.54 143.15,310.33 143.50,310.80 C143.85,311.27 144.95,313.64 145.30,314.20 C145.65,314.76 146.71,316.23 147.00,316.40 C147.29,316.57 147.95,315.78 148.20,315.90 C148.45,316.02 149.24,317.38 149.50,317.60 C149.76,317.82 150.54,318.12 150.80,318.10 C151.06,318.08 151.84,317.66 152.10,317.40 C152.36,317.14 153.14,316.03 153.40,315.50 C153.66,314.97 154.45,312.95 154.70,312.10 C154.95,311.25 155.65,308.11 155.90,307.00 C156.15,305.89 156.97,302.20 157.20,301.00 C157.43,299.80 158.01,296.48 158.20,295.00 C158.39,293.52 158.78,288.62 159.10,286.20 C159.42,283.78 161.00,273.20 161.40,270.80 C161.80,268.40 162.76,263.57 163.10,262.20 C163.44,260.83 164.58,257.61 164.80,257.10 C165.02,256.59 165.04,256.67 165.30,257.10 C165.56,257.53 167.02,260.63 167.40,261.40 C167.78,262.17 168.76,264.34 169.10,264.80 C169.44,265.26 170.46,265.83 170.80,266.00 C171.14,266.17 172.16,266.11 172.50,266.50 C172.84,266.89 173.86,268.96 174.20,269.90 C174.54,270.84 175.56,274.62 175.90,275.90 C176.24,277.18 177.26,281.33 177.60,282.70 C177.94,284.07 178.96,288.23 179.30,289.60 C179.64,290.97 180.66,295.03 181.00,296.40 C181.34,297.77 182.27,301.84 182.70,303.30 C183.13,304.76 184.79,309.68 185.30,311.00 C185.81,312.32 187.29,315.81 187.80,316.50 C188.31,317.19 189.89,317.59 190.40,317.90 C190.91,318.21 192.47,319.60 192.90,319.60 C193.33,319.60 194.35,318.59 194.70,317.90 C195.05,317.21 196.06,314.07 196.40,312.70 C196.74,311.33 197.76,305.99 198.10,304.20 C198.44,302.41 199.46,296.85 199.80,294.80 C200.14,292.75 201.16,285.84 201.50,283.70 C201.84,281.56 202.94,274.69 203.20,273.40 C203.46,272.11 203.84,271.92 204.10,270.80 C204.36,269.68 205.51,263.06 205.80,262.20 C206.09,261.34 206.74,261.86 207.00,262.20 C207.26,262.54 208.09,265.00 208.40,265.60 C208.71,266.20 209.76,268.16 210.10,268.20 C210.44,268.24 211.46,266.29 211.80,266.00 C212.14,265.71 213.19,265.20 213.50,265.30 C213.81,265.40 214.64,266.28 214.90,267.00 C215.16,267.72 215.86,271.05 216.10,272.50 C216.34,273.95 217.05,280.04 217.30,281.50 C217.55,282.96 218.30,285.86 218.60,287.10 C218.90,288.34 219.87,292.36 220.30,293.90 C220.73,295.44 222.39,301.04 222.90,302.50 C223.41,303.96 224.89,307.56 225.40,308.50 C225.91,309.44 227.48,311.22 228.00,311.90 C228.52,312.58 230.09,314.62 230.60,315.30 C231.11,315.98 232.64,318.10 233.10,318.70 C233.56,319.30 234.78,321.52 235.20,321.30 C235.62,321.08 236.78,317.93 237.30,316.50 C237.82,315.07 239.84,309.05 240.40,307.00 C240.96,304.95 242.38,298.10 242.90,296.00 C243.42,293.90 245.07,287.75 245.60,286.00 C246.13,284.25 247.78,279.55 248.20,278.50 C248.62,277.45 249.50,275.93 249.80,275.50 C250.10,275.07 250.89,274.10 251.20,274.20 C251.51,274.30 252.55,276.10 252.90,276.50 C253.25,276.90 254.35,278.45 254.70,278.20 C255.05,277.95 256.06,274.56 256.40,274.00 C256.74,273.44 257.76,272.43 258.10,272.60 C258.44,272.77 259.46,274.71 259.80,275.70 C260.14,276.69 261.16,281.13 261.50,282.50 C261.84,283.87 262.86,288.12 263.20,289.40 C263.54,290.68 264.47,294.02 264.90,295.30 C265.33,296.58 267.06,301.13 267.50,302.20 C267.94,303.27 268.87,305.15 269.30,306.00 C269.73,306.85 271.29,309.89 271.80,310.70 C272.31,311.51 273.88,313.63 274.40,314.10 C274.92,314.57 276.49,315.06 277.00,315.40 C277.51,315.74 278.99,317.07 279.50,317.50 C280.01,317.93 281.58,319.31 282.10,319.70 C282.62,320.09 284.21,321.12 284.70,321.40 C285.19,321.68 286.77,322.39 287.00,322.50" stroke="#202020" stroke-width="1.0"/><path d="M38.00,276.50 C38.13,276.92 38.30,277.50 38.80,279.00 C39.30,280.50 40.22,283.08 41.00,285.50 C41.78,287.92 42.65,290.95 43.50,293.50 C44.35,296.05 45.23,298.45 46.10,300.80 C46.97,303.15 47.85,305.62 48.70,307.60 C49.55,309.58 50.35,311.13 51.20,312.70 C52.05,314.27 52.93,315.72 53.80,317.00 C54.67,318.28 55.77,319.68 56.40,320.40 C57.03,321.12 57.03,321.72 57.60,321.30 C58.17,320.88 59.15,319.62 59.80,317.90 C60.45,316.18 60.93,313.85 61.50,311.00 C62.07,308.15 62.70,304.30 63.20,300.80 C63.70,297.30 64.07,293.57 64.50,290.00 C64.93,286.43 65.25,284.42 65.80,279.40 C66.35,274.38 67.25,264.28 67.80,259.90 C68.35,255.52 68.67,255.37 69.10,253.10 C69.53,250.83 69.97,248.30 70.40,246.30 C70.83,244.30 71.28,242.27 71.70,241.10 C72.12,239.93 72.48,239.30 72.90,239.30 C73.32,239.30 73.77,240.08 74.20,241.10 C74.63,242.12 75.07,243.83 75.50,245.40 C75.93,246.97 76.37,248.65 76.80,250.50 C77.23,252.35 77.67,254.50 78.10,256.50 C78.53,258.50 79.03,260.83 79.40,262.50 C79.77,264.17 80.00,265.10 80.30,266.50 C80.60,267.90 80.77,268.90 81.20,270.90 C81.63,272.90 82.20,275.40 82.90,278.50 C83.60,281.60 84.55,286.07 85.40,289.50 C86.25,292.93 87.13,296.37 88.00,299.10 C88.87,301.83 89.75,303.92 90.60,305.90 C91.45,307.88 92.25,309.43 93.10,311.00 C93.95,312.57 94.85,314.02 95.70,315.30 C96.55,316.58 97.43,317.77 98.20,318.70 C98.97,319.63 99.72,320.62 100.30,320.90 C100.88,321.18 101.18,321.05 101.70,320.40 C102.22,319.75 102.70,318.57 103.40,317.00 C104.10,315.43 105.05,313.57 105.90,311.00 C106.75,308.43 107.93,304.10 108.50,301.60 C109.07,299.10 108.87,298.10 109.30,296.00 C109.73,293.90 110.68,290.57 111.10,289.00 C111.52,287.43 111.25,287.93 111.80,286.60 C112.35,285.27 113.53,282.33 114.40,281.00 C115.27,279.67 116.15,278.80 117.00,278.60 C117.85,278.40 118.65,279.23 119.50,279.80 C120.35,280.37 121.23,281.15 122.10,282.00 C122.97,282.85 123.85,283.85 124.70,284.90 C125.55,285.95 126.35,287.15 127.20,288.30 C128.05,289.45 128.93,290.57 129.80,291.80 C130.67,293.03 131.53,294.53 132.40,295.70 C133.27,296.87 134.28,297.63 135.00,298.80 C135.72,299.97 136.07,301.33 136.70,302.70 C137.33,304.07 138.08,305.72 138.80,307.00 C139.52,308.28 140.28,309.33 141.00,310.40 C141.72,311.47 142.38,312.48 143.10,313.40 C143.82,314.32 144.58,315.12 145.30,315.90 C146.02,316.68 146.77,317.45 147.40,318.10 C148.03,318.75 148.57,319.30 149.10,319.80 C149.63,320.30 150.10,321.17 150.60,321.10 C151.10,321.03 151.57,320.27 152.10,319.40 C152.63,318.53 153.23,317.27 153.80,315.90 C154.37,314.53 155.00,312.97 155.50,311.20 C156.00,309.43 156.40,307.28 156.80,305.30 C157.20,303.32 157.62,301.02 157.90,299.30 C158.18,297.58 158.20,296.90 158.50,295.00 C158.80,293.10 159.22,291.37 159.70,287.90 C160.18,284.43 160.83,278.33 161.40,274.20 C161.97,270.07 162.53,265.95 163.10,263.10 C163.67,260.25 164.23,258.37 164.80,257.10 C165.37,255.83 165.93,255.35 166.50,255.50 C167.07,255.65 167.63,256.73 168.20,258.00 C168.77,259.27 169.33,261.25 169.90,263.10 C170.47,264.95 171.03,267.12 171.60,269.10 C172.17,271.08 172.73,273.02 173.30,275.00 C173.87,276.98 174.42,279.13 175.00,281.00 C175.58,282.87 176.22,284.48 176.80,286.20 C177.38,287.92 177.93,289.67 178.50,291.30 C179.07,292.93 179.50,293.88 180.20,296.00 C180.90,298.12 181.85,301.33 182.70,304.00 C183.55,306.67 184.45,309.68 185.30,312.00 C186.15,314.32 186.95,316.50 187.80,317.90 C188.65,319.30 189.55,319.70 190.40,320.40 C191.25,321.10 192.10,322.23 192.90,322.10 C193.70,321.97 194.48,321.45 195.20,319.60 C195.92,317.75 196.52,314.42 197.20,311.00 C197.88,307.58 198.67,303.08 199.30,299.10 C199.93,295.12 200.43,291.10 201.00,287.10 C201.57,283.10 202.03,279.10 202.70,275.10 C203.37,271.10 204.40,265.38 205.00,263.10 C205.60,260.82 205.80,261.27 206.30,261.40 C206.80,261.53 207.43,262.48 208.00,263.90 C208.57,265.32 209.12,268.18 209.70,269.90 C210.28,271.62 210.87,272.92 211.50,274.20 C212.13,275.48 212.67,276.17 213.50,277.60 C214.33,279.03 215.70,281.32 216.50,282.80 C217.30,284.28 217.72,285.30 218.30,286.50 C218.88,287.70 219.38,288.05 220.00,290.00 C220.62,291.95 221.23,295.70 222.00,298.20 C222.77,300.70 223.75,302.87 224.60,305.00 C225.45,307.13 226.25,309.28 227.10,311.00 C227.95,312.72 228.83,314.02 229.70,315.30 C230.57,316.58 231.45,317.70 232.30,318.70 C233.15,319.70 234.10,320.93 234.80,321.30 C235.50,321.67 235.97,321.78 236.50,320.90 C237.03,320.02 237.35,318.40 238.00,316.00 C238.65,313.60 239.58,309.92 240.40,306.50 C241.22,303.08 242.05,299.00 242.90,295.50 C243.75,292.00 244.65,288.25 245.50,285.50 C246.35,282.75 247.25,280.42 248.00,279.00 C248.75,277.58 249.32,277.13 250.00,277.00 C250.68,276.87 251.32,277.70 252.10,278.20 C252.88,278.70 253.85,279.42 254.70,280.00 C255.55,280.58 256.35,281.00 257.20,281.70 C258.05,282.40 258.93,282.92 259.80,284.20 C260.67,285.48 261.55,287.40 262.40,289.40 C263.25,291.40 264.05,293.93 264.90,296.20 C265.75,298.47 266.77,301.30 267.50,303.00 C268.23,304.70 268.58,304.98 269.30,306.40 C270.02,307.82 270.95,310.00 271.80,311.50 C272.65,313.00 273.53,314.32 274.40,315.40 C275.27,316.48 276.15,317.22 277.00,318.00 C277.85,318.78 278.65,319.53 279.50,320.10 C280.35,320.67 281.23,321.05 282.10,321.40 C282.97,321.75 283.87,322.00 284.70,322.20 C285.53,322.40 286.70,322.53 287.10,322.60" stroke="#2020ff" stroke-width="1.05"/></g>
<path d="M39.1,238.75 H460.7 V323.2 H39.1 Z M81.26,323.2 v-4 M81.26,238.75 v4 M123.42,323.2 v-4 M123.42,238.75 v4 M165.58,323.2 v-4 M165.58,238.75 v4 M207.74,323.2 v-4 M207.74,238.75 v4 M249.90,323.2 v-4 M249.90,238.75 v4 M292.06,323.2 v-4 M292.06,238.75 v4 M334.22,323.2 v-4 M334.22,238.75 v4 M376.38,323.2 v-4 M376.38,238.75 v4 M418.54,323.2 v-4 M418.54,238.75 v4 M39.1,295.05 h4 M460.7,295.05 h-4 M39.1,266.90 h4 M460.7,266.90 h-4 " fill="none" stroke="#7c7c7c" stroke-width="1.3"/>
<text x="35.00" y="327.40" text-anchor="end" font-family="Liberation Sans, sans-serif" font-size="11.3" stroke="#000" stroke-width="0.2">0</text>
<text x="35.00" y="299.25" text-anchor="end" font-family="Liberation Sans, sans-serif" font-size="11.3" stroke="#000" stroke-width="0.2">100</text>
<text x="35.00" y="271.10" text-anchor="end" font-family="Liberation Sans, sans-serif" font-size="11.3" stroke="#000" stroke-width="0.2">200</text>
<text x="35.00" y="242.95" text-anchor="end" font-family="Liberation Sans, sans-serif" font-size="11.3" stroke="#000" stroke-width="0.2">300</text>
<text x="39.1" y="337.15" text-anchor="middle" font-family="Liberation Sans, sans-serif" font-size="11.3" stroke="#000" stroke-width="0.2">1950</text>
<text x="81.3" y="337.15" text-anchor="middle" font-family="Liberation Sans, sans-serif" font-size="11.3" stroke="#000" stroke-width="0.2">1960</text>
<text x="123.4" y="337.15" text-anchor="middle" font-family="Liberation Sans, sans-serif" font-size="11.3" stroke="#000" stroke-width="0.2">1970</text>
<text x="165.6" y="337.15" text-anchor="middle" font-family="Liberation Sans, sans-serif" font-size="11.3" stroke="#000" stroke-width="0.2">1980</text>
<text x="207.7" y="337.15" text-anchor="middle" font-family="Liberation Sans, sans-serif" font-size="11.3" stroke="#000" stroke-width="0.2">1990</text>
<text x="249.9" y="337.15" text-anchor="middle" font-family="Liberation Sans, sans-serif" font-size="11.3" stroke="#000" stroke-width="0.2">2000</text>
<text x="292.1" y="337.15" text-anchor="middle" font-family="Liberation Sans, sans-serif" font-size="11.3" stroke="#000" stroke-width="0.2">2010</text>
<text x="334.2" y="337.15" text-anchor="middle" font-family="Liberation Sans, sans-serif" font-size="11.3" stroke="#000" stroke-width="0.2">2020</text>
<text x="376.4" y="337.15" text-anchor="middle" font-family="Liberation Sans, sans-serif" font-size="11.3" stroke="#000" stroke-width="0.2">2030</text>
<text x="418.5" y="337.15" text-anchor="middle" font-family="Liberation Sans, sans-serif" font-size="11.3" stroke="#000" stroke-width="0.2">2040</text>
<text x="460.7" y="337.15" text-anchor="middle" font-family="Liberation Sans, sans-serif" font-size="11.3" stroke="#000" stroke-width="0.2">2050</text>
<text transform="translate(8.7,280.6) rotate(-90)" text-anchor="middle" letter-spacing="0.04" font-family="Liberation Sans, sans-serif" font-size="11.5" stroke="#000" stroke-width="0.2">Sunspot Number</text>
<text x="249.6" y="350.9" text-anchor="middle" font-family="Liberation Sans, sans-serif" font-size="12" stroke="#000" stroke-width="0.2">Time</text>
</svg>
</body></html>
